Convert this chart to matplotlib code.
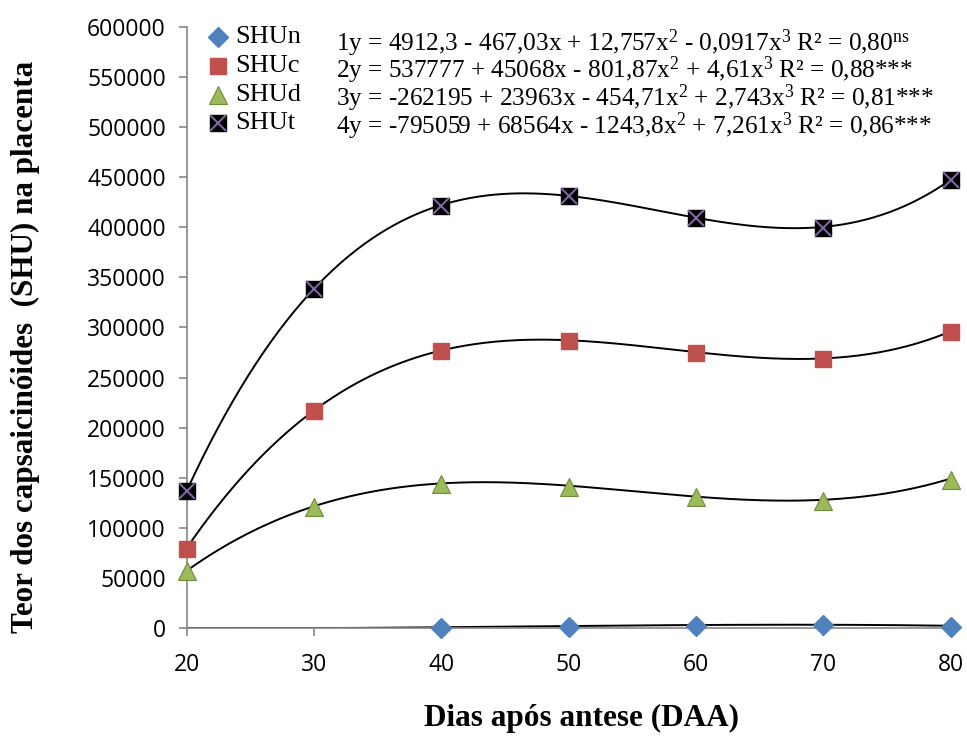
import numpy as np
import matplotlib
matplotlib.use("Agg")
import matplotlib.pyplot as plt

plt.rcParams['mathtext.fontset'] = 'custom'
plt.rcParams['mathtext.rm'] = 'Liberation Serif'
plt.rcParams['mathtext.it'] = 'Liberation Serif:italic'

dias = [20, 30, 40, 50, 60, 70, 80]
dias_n = [40, 50, 60, 70, 80]
shu_n = [0, 1000, 2500, 3000, 1000]
shu_c = [79000, 217000, 276000, 286000, 274000, 268000, 295000]
shu_d = [57000, 121000, 144000, 141000, 131000, 127000, 148000]
shu_t = [137000, 338000, 421000, 431000, 409000, 399000, 447000]

# coefficients of the trend lines (x^3, x^2, x, 1) as printed on the chart
# (sign of the intercept of line 2 is missing on the original print)
coef_n = [-0.0917, 12.757, -467.03, 4912.3]
coef_c = [4.61, -801.87, 45068, -537777]
coef_d = [2.743, -454.71, 23963, -262195]
coef_t = [7.261, -1243.8, 68564, -795059]

equacoes = [
    "1y = 4912,3 - 467,03x + 12,757x$^{2}$ - 0,0917x$^{3}$ R² = 0,80$^{\\mathrm{ns}}$",
    "2y = 537777 + 45068x - 801,87x$^{2}$ + 4,61x$^{3}$ R² = 0,88***",
    "3y = -262195 + 23963x - 454,71x$^{2}$ + 2,743x$^{3}$ R² = 0,81***",
    "4y = -795059 + 68564x - 1243,8x$^{2}$ + 7,261x$^{3}$ R² = 0,86***",
]

fig = plt.figure(figsize=(9.67, 7.45), dpi=100)
ax = fig.add_axes([0.193, 0.157, 0.790, 0.807])

xs = np.linspace(20, 80, 300)
for coef in [coef_n, coef_c, coef_d, coef_t]:
    ys = np.maximum(np.polyval(coef, xs), 0)
    ax.plot(xs, ys, color='black', lw=1.4, zorder=2)

ax.plot(dias_n, shu_n, linestyle='none', marker='D', ms=10, color='#4F81BD',
        zorder=3, clip_on=False)
ax.plot(dias, shu_c, linestyle='none', marker='s', ms=12, color='#C0504D',
        zorder=3, clip_on=False)
ax.plot(dias, shu_d, linestyle='none', marker='^', ms=13, color='#9BBB59',
        mec='#71893F', mew=0.8, zorder=3, clip_on=False)
ax.plot(dias, shu_t, linestyle='none', marker='s', ms=11, color='black',
        zorder=3, clip_on=False)
ax.plot(dias, shu_t, linestyle='none', marker='x', ms=12, color='#8064A2',
        mew=1.5, zorder=4, clip_on=False)

# legend drawn by hand, as in the original
leg_y = [590000, 561000, 532000, 504000]
leg_lbl = ['SHUn', 'SHUc', 'SHUd', 'SHUt']
for yy, lbl in zip(leg_y, leg_lbl):
    ax.text(23.8, yy, lbl, fontsize=19, family='Liberation Serif',
            va='center', ha='left')
ax.plot([22.45], [leg_y[0]], marker='D', ms=10, color='#4F81BD', clip_on=False)
ax.plot([22.45], [leg_y[1]], marker='s', ms=12, color='#C0504D', clip_on=False)
ax.plot([22.45], [leg_y[2]], marker='^', ms=13, color='#9BBB59', mec='#71893F',
        mew=0.8, clip_on=False)
ax.plot([22.45], [leg_y[3]], marker='s', ms=11, color='black', clip_on=False)
ax.plot([22.45], [leg_y[3]], marker='x', ms=12, color='#8064A2', mew=1.5,
        clip_on=False)

eq_y = [584000, 557000, 529000, 501000]
for yy, eq in zip(eq_y, equacoes):
    ax.text(31.7, yy, eq, fontsize=18.2, family='Liberation Serif',
            va='center', ha='left')

ax.set_xlim(20, 80)
ax.set_ylim(0, 600000)
ax.set_xticks(dias)
ax.set_yticks(np.arange(0, 600001, 50000))
ax.set_yticklabels([str(v) for v in range(0, 600001, 50000)])
for s in ['top', 'right']:
    ax.spines[s].set_visible(False)
for s in ['left', 'bottom']:
    ax.spines[s].set_color('#868686')
    ax.spines[s].set_linewidth(1.2)
ax.tick_params(axis='both', colors='#868686', length=6, width=1.2,
               labelcolor='black', labelsize=16.5)
for t in ax.get_xticklabels() + ax.get_yticklabels():
    t.set_family('Open Sans')
ax.tick_params(axis='x', pad=12)
ax.tick_params(axis='y', pad=9)

ax.set_xlabel('Dias após antese (DAA)', fontsize=22.5, fontweight='bold',
              family='Liberation Serif')
ax.set_ylabel('Teor dos capsaicinóides  (SHU) na placenta', fontsize=22.4,
              fontweight='bold', family='Liberation Serif')
ax.xaxis.set_label_coords(0.517, -0.127)
ax.yaxis.set_label_coords(-0.192, 0.467)

fig.savefig('out.png', dpi=100)
